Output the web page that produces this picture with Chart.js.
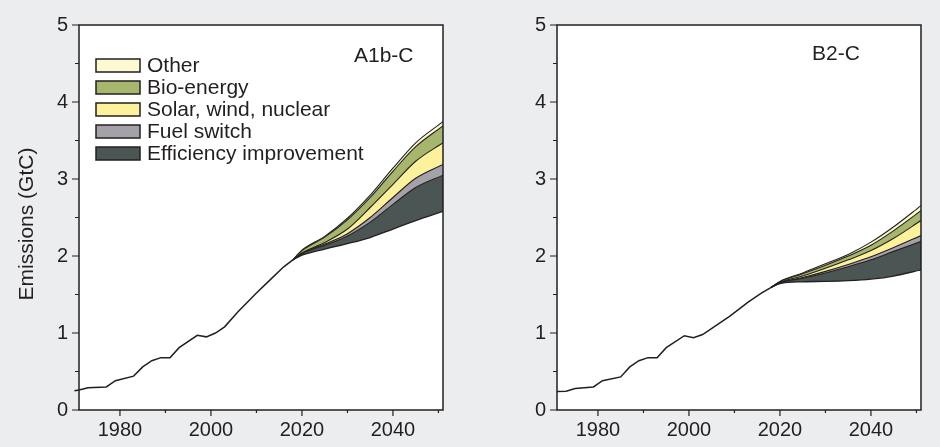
<!DOCTYPE html>
<html>
<head>
<meta charset="utf-8">
<script src="https://cdn.jsdelivr.net/npm/chart.js@4/dist/chart.umd.min.js"></script>
<style>
  html, body { margin: 0; padding: 0; background: #ecedef; }
  body { width: 940px; height: 447px; position: relative; overflow: hidden; }
  canvas { position: absolute; top: 0; }
  #panelA { left: 0; }
  #panelB { left: 470px; }
</style>
</head>
<body>
<canvas id="panelA" width="470" height="447"></canvas>
<canvas id="panelB" width="470" height="447"></canvas>
<script>
// ---- data -------------------------------------------------------------
const seriesNames  = ['Efficiency improvement', 'Fuel switch', 'Solar, wind, nuclear', 'Bio-energy', 'Other'];
const seriesColors = ['#4b5654', '#a4a2a8', '#fdf29b', '#a6b66c', '#fdf9d3'];

const xTickLabels = [1980, 2000, 2020, 2040];
const xTickMarks  = [1980, 1990, 2000, 2010, 2020, 2030, 2040, 2050];
const yTickLabels = [0, 1, 2, 3, 4, 5];
const yTickMarks  = [0, 0.5, 1, 1.5, 2, 2.5, 3, 3.5, 4, 4.5, 5];

// A1b-C: historical emissions (GtC)
const histYearsA = [1970, 1971, 1973, 1977, 1979, 1983, 1985, 1987, 1989, 1991, 1993, 1997, 1999, 2001, 2003, 2006, 2010, 2013, 2016, 2018];
const histA      = [0.25, 0.26, 0.29, 0.30, 0.38, 0.44, 0.56, 0.64, 0.68, 0.68, 0.81, 0.97, 0.95, 1.00, 1.08, 1.28, 1.52, 1.69, 1.86, 1.95];
// A1b-C: projection, mitigated path plus the wedge of each option
const projYears    = [2018, 2020, 2025, 2030, 2035, 2040, 2045, 2051];
const mitigatedA   = [1.95, 2.01, 2.09, 2.16, 2.24, 2.35, 2.46, 2.58];
const efficiencyA  = [0, 0.020, 0.050, 0.10, 0.20, 0.32, 0.43, 0.470];
const fuelSwitchA  = [0, 0.005, 0.015, 0.03, 0.06, 0.09, 0.12, 0.140];
const solarWindA   = [0, 0.005, 0.020, 0.06, 0.13, 0.17, 0.22, 0.280];
const bioEnergyA   = [0, 0.030, 0.070, 0.12, 0.13, 0.17, 0.19, 0.220];
const otherA       = [0, 0.005, 0.010, 0.02, 0.03, 0.04, 0.05, 0.055];

// B2-C: historical emissions (GtC)
const histYearsB = [1971, 1973, 1975, 1979, 1981, 1985, 1987, 1989, 1991, 1993, 1995, 1999, 2001, 2003, 2009, 2013, 2016, 2018];
const histB      = [0.24, 0.245, 0.28, 0.30, 0.38, 0.43, 0.56, 0.64, 0.68, 0.68, 0.81, 0.965, 0.94, 0.98, 1.22, 1.40, 1.52, 1.59];
// B2-C: projection
const mitigatedB   = [1.59, 1.64, 1.665, 1.67, 1.68, 1.70, 1.74, 1.82];
const efficiencyB  = [0, 0.010, 0.045, 0.11, 0.18, 0.25, 0.32, 0.370];
const fuelSwitchB  = [0, 0.003, 0.010, 0.02, 0.03, 0.04, 0.05, 0.075];
const solarWindB   = [0, 0.004, 0.020, 0.04, 0.06, 0.08, 0.12, 0.195];
const bioEnergyB   = [0, 0.010, 0.030, 0.04, 0.05, 0.07, 0.10, 0.130];
const otherB       = [0, 0.003, 0.010, 0.02, 0.02, 0.04, 0.05, 0.065];

// ---- styling ----------------------------------------------------------
const FONT = "'Liberation Sans', Arial, Helvetica, sans-serif";
const INK = '#231f20';

const pts = (xs, ys) => xs.map((x, i) => ({ x, y: ys[i] }));

// White plot area, frame and tick marks drawn through the chart's scales
const framePlugin = {
  id: 'frame',
  beforeDraw(chart) {
    const { ctx, chartArea: a } = chart;
    ctx.save();
    ctx.fillStyle = '#ffffff';
    ctx.fillRect(a.left, a.top, a.right - a.left, a.bottom - a.top);
    ctx.restore();
  },
  afterDraw(chart) {
    const { ctx, chartArea: a, scales } = chart;
    ctx.save();
    ctx.strokeStyle = INK;
    ctx.lineWidth = 1.5;
    ctx.strokeRect(a.left, a.top, a.right - a.left, a.bottom - a.top);
    ctx.lineWidth = 1.2;
    ctx.beginPath();
    yTickMarks.forEach(v => {
      const p = scales.y.getPixelForValue(v);
      const len = Number.isInteger(v) ? 7 : 4;
      ctx.moveTo(a.left - len, p);
      ctx.lineTo(a.left, p);
    });
    xTickMarks.forEach(v => {
      const p = scales.x.getPixelForValue(v);
      const len = v % 20 === 0 ? 6 : 3;
      ctx.moveTo(p, a.bottom);
      ctx.lineTo(p, a.bottom + len);
    });
    ctx.stroke();
    ctx.restore();
  }
};

// Panel name, box legend and rotated y-axis title
const annotatePlugin = {
  id: 'annotate',
  afterDraw(chart, args, opts) {
    const { ctx } = chart;
    ctx.save();
    ctx.fillStyle = INK;
    ctx.textBaseline = 'alphabetic';
    ctx.textAlign = 'left';
    ctx.font = `21px ${FONT}`;
    ctx.fillText(opts.panel, opts.panelX, opts.panelY);

    if (opts.legend) {
      const order = [4, 3, 2, 1, 0];
      order.forEach((s, row) => {
        const top = 59 + row * 22;
        ctx.fillStyle = seriesColors[s];
        ctx.fillRect(96, top, 44, 13);
        ctx.strokeStyle = INK;
        ctx.lineWidth = 1.5;
        ctx.strokeRect(96, top, 44, 13);
        ctx.fillStyle = INK;
        ctx.font = `21px ${FONT}`;
        ctx.textBaseline = 'alphabetic';
        ctx.fillText(seriesNames[s], 147, top + 13);
      });
    }

    if (opts.yTitle) {
      ctx.translate(33, 224);
      ctx.rotate(-Math.PI / 2);
      ctx.textAlign = 'center';
      ctx.textBaseline = 'alphabetic';
      ctx.font = `21px ${FONT}`;
      ctx.fillStyle = INK;
      ctx.fillText(opts.yTitle, 0, 0);
    }
    ctx.restore();
  }
};

function buildPanel(id, cfg) {
  const lineStyle = { borderColor: INK, pointRadius: 0, pointHoverRadius: 0 };
  const histPoints = pts(cfg.histYears, cfg.hist);
  if (cfg.openStart) histPoints.unshift({ x: cfg.histYears[0], y: 0 });

  const datasets = [
    Object.assign({ label: 'Historical', data: histPoints, stack: 'hist', borderWidth: 1.5,
      tension: 0, fill: false, clip: false }, lineStyle),
    Object.assign({ label: 'Mitigated', data: pts(projYears, cfg.mitigated), stack: 'proj', borderWidth: 1.3,
      cubicInterpolationMode: 'monotone', fill: false }, lineStyle)
  ];
  cfg.wedges.forEach((w, i) => {
    datasets.push(Object.assign({
      label: seriesNames[i],
      data: pts(projYears, w),
      stack: 'proj',
      borderWidth: 1.1,
      backgroundColor: seriesColors[i],
      cubicInterpolationMode: 'monotone',
      fill: '-1'
    }, lineStyle));
  });

  return new Chart(document.getElementById(id), {
    type: 'line',
    data: { datasets },
    options: {
      responsive: false,
      animation: false,
      devicePixelRatio: 1,
      events: [],
      layout: { padding: { left: 0, right: cfg.padRight, top: 25, bottom: 0 } },
      plugins: {
        legend: { display: false },
        tooltip: { enabled: false },
        annotate: cfg.annotate
      },
      scales: {
        x: {
          type: 'linear', min: 1971, max: 2051,
          grid: { display: false, drawTicks: false },
          border: { display: false },
          ticks: { padding: 8, color: INK, font: { family: FONT, size: 20 }, maxRotation: 0, autoSkip: false,
                   callback: v => String(v) },
          afterBuildTicks: s => { s.ticks = xTickLabels.map(v => ({ value: v })); },
          afterFit: s => { s.height = 37; }
        },
        y: {
          type: 'linear', min: 0, max: 5, stacked: true,
          grid: { display: false, drawTicks: false },
          border: { display: false },
          ticks: { padding: 11, color: INK, font: { family: FONT, size: 20 }, callback: v => String(v) },
          afterBuildTicks: s => { s.ticks = yTickLabels.map(v => ({ value: v })); },
          afterFit: s => { s.width = cfg.yWidth; }
        }
      }
    },
    plugins: [framePlugin, annotatePlugin]
  });
}

buildPanel('panelA', {
  histYears: histYearsA, hist: histA, openStart: true,
  mitigated: mitigatedA,
  wedges: [efficiencyA, fuelSwitchA, solarWindA, bioEnergyA, otherA],
  yWidth: 79, padRight: 27,
  annotate: { panel: 'A1b-C', panelX: 354, panelY: 62, legend: true, yTitle: 'Emissions (GtC)' }
});

buildPanel('panelB', {
  histYears: histYearsB, hist: histB, openStart: false,
  mitigated: mitigatedB,
  wedges: [efficiencyB, fuelSwitchB, solarWindB, bioEnergyB, otherB],
  yWidth: 87, padRight: 19,
  annotate: { panel: 'B2-C', panelX: 342, panelY: 60, legend: false, yTitle: '' }
});
</script>
</body>
</html>
